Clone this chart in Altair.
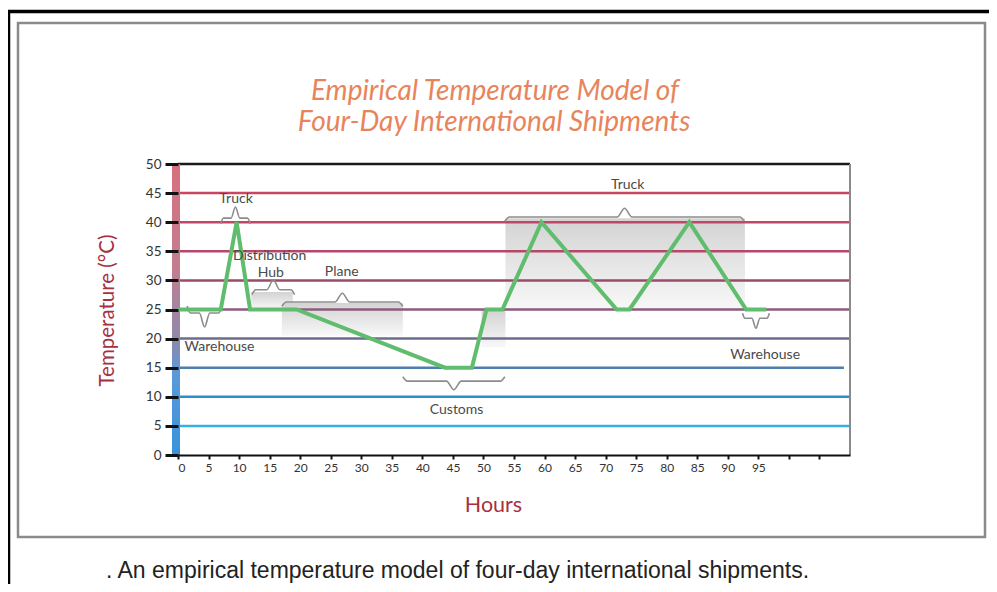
import altair as alt
import pandas as pd

# ---------------- data ----------------
hours = [0, 7.0, 9.6, 11.8, 19.4, 43.7, 48.1, 50.5, 53.1, 59.5, 71.8, 73.9, 83.7, 93.0, 96.3]
temps = [25, 25, 40, 25, 25, 15, 15, 25, 25, 40, 25, 25, 40, 25, 25]

grid_values = [5, 10, 15, 20, 25, 30, 35, 40, 45, 50]
grid_colors = ["#3aaee0", "#2a8fca", "#4f7dac", "#6c6c8e", "#8c5c7c", "#9c4a69",
               "#b44868", "#c34567", "#ca4660", "#1a1a1a"]
grid_end = [110, 110, 109, 110, 110, 110, 110, 110, 110, 110]

shade_x1 = [12.0, 17.0, 49.7, 53.6]
shade_x2 = [18.8, 36.8, 53.6, 92.8]
shade_lo = [25.0, 20.5, 18.5, 25.0]
shade_hi = [28.0, 26.1, 25.0, 40.7]

brace_start = [1.5, 7.0, 12.1, 17.0, 36.8, 53.5, 92.4]
brace_end = [7.2, 11.8, 19.1, 36.8, 53.5, 92.7, 96.8]
brace_base = [24.4, 40.7, 28.4, 26.3, 12.7, 40.9, 23.5]
brace_tip = [22.0, 42.6, 30.1, 27.8, 11.2, 42.4, 21.8]

label_text = ["Truck", "Distribution", "Hub", "Plane", "Warehouse", "Customs", "Truck", "Warehouse"]
label_hour = [9.5, 15.0, 15.2, 26.8, 6.8, 45.6, 73.6, 96.1]
label_temp = [44.0, 34.2, 31.3, 31.4, 18.6, 7.7, 46.4, 17.2]

x_ticks = list(range(0, 110, 5))
y_ticks = list(range(0, 55, 5))

title_lines = ["Empirical Temperature Model of", "Four-Day International Shipments"]
caption = ". An empirical temperature model of four-day international shipments."

# ---------------- tables ----------------
line_df = pd.DataFrame({"h": hours, "t": temps})
grid_df = pd.DataFrame({"t": grid_values, "c": grid_colors, "x0": 0, "x1": grid_end})
shade_df = pd.DataFrame({"a": shade_x1, "b": shade_x2, "lo": shade_lo, "hi": shade_hi})

rows = []
for i, (a, b, base, tip) in enumerate(zip(brace_start, brace_end, brace_base, brace_tip)):
    m = (a + b) / 2
    w = min(1.2, (b - a) * 0.15)
    d = tip - base
    pts = [(a, base - 0.5 * d), (a + w * 0.6, base), (m - w, base), (m, tip),
           (m + w, base), (b - w * 0.6, base), (b, base - 0.5 * d)]
    for j, (px, py) in enumerate(pts):
        rows.append({"id": i, "o": j, "h": px, "t": py})
brace_df = pd.DataFrame(rows)
label_df = pd.DataFrame({"txt": label_text, "h": label_hour, "t": label_temp})
one = pd.DataFrame({"k": [0]})

xs = alt.Scale(domain=[0, 110], nice=False, zero=False)
ys = alt.Scale(domain=[0, 50], nice=False, zero=False)

W, H = 672, 291

AX = alt.Axis(values=x_ticks, labelExpr="datum.value <= 95 ? datum.label : ''",
              title="Hours", titleX=315, titleY=50, titleAlign="center",
              titleBaseline="middle", titleColor="#a8303f", titleFontSize=21.5,
              titleFontWeight="normal", titleFont="Lato",
              labelFont="Lato", labelFontSize=12, labelColor="#333",
              labelPadding=3, tickSize=4, tickWidth=2, tickColor="#111",
              domainColor="#111", domainWidth=2, grid=False, zindex=1)
AY = alt.Axis(values=y_ticks, title="Temperature (°C)", titleX=-71, titleY=146,
              titleAlign="center", titleBaseline="middle", titleAngle=-90,
              titleColor="#a8303f", titleFontSize=20.5, titleFontWeight="normal",
              titleFont="Lato", labelFont="Lato", labelFontSize=13.5,
              labelColor="#333", labelPadding=4, tickSize=13, tickWidth=3,
              tickColor="#111", domain=False, grid=False, zindex=1)


def X(f):
    return alt.X(f, type="quantitative", scale=xs, axis=AX)


def Y(f):
    return alt.Y(f, type="quantitative", scale=ys, axis=AY)


grad_shade = alt.Gradient(gradient="linear",
                          stops=[alt.GradientStop(color="#d3d3d3", offset=0),
                                 alt.GradientStop(color="#f8f8f8", offset=1)],
                          x1=0, x2=0, y1=0, y2=1)
grad_bar = alt.Gradient(gradient="linear",
                        stops=[alt.GradientStop(color="#d8707f", offset=0),
                               alt.GradientStop(color="#c27e90", offset=0.35),
                               alt.GradientStop(color="#9088aa", offset=0.6),
                               alt.GradientStop(color="#5a9ad8", offset=0.72),
                               alt.GradientStop(color="#3a92da", offset=1)],
                        x1=0, x2=0, y1=0, y2=1)

# outer frame
frame_box = alt.Chart(one).mark_rect(fillOpacity=0, stroke="#8a8a8a", strokeWidth=2.5).encode(
    x=alt.value(-160), x2=alt.value(807), y=alt.value(-141), y2=alt.value(373))
frame_top = alt.Chart(one).mark_rule(color="#000", strokeWidth=3.5).encode(
    x=alt.value(-170), x2=alt.value(811), y=alt.value(-152.5))
frame_left = alt.Chart(one).mark_rule(color="#000", strokeWidth=3.5).encode(
    x=alt.value(-169.5), y=alt.value(-154), y2=alt.value(420))

shades = alt.Chart(shade_df).mark_rect(fill=grad_shade).encode(
    x=X("a"), x2="b", y=Y("hi"), y2="lo")

grid = alt.Chart(grid_df).mark_rule(strokeWidth=2.5).encode(
    x=X("x0"), x2="x1", y=Y("t"), color=alt.Color("c:N", scale=None, legend=None))

right_border = alt.Chart(one).mark_rule(color="#8a8a8a", strokeWidth=2).encode(
    x=alt.value(W), y=alt.value(0), y2=alt.value(H))

bar = alt.Chart(one).mark_rect(fill=grad_bar).encode(
    x=alt.value(-6), x2=alt.value(2), y=alt.value(0), y2=alt.value(H))

braces = alt.Chart(brace_df).mark_line(color="#8c8c8c", strokeWidth=1.6, interpolate="monotone").encode(
    x=X("h"), y=Y("t"), detail="id:N", order="o:Q")

line = alt.Chart(line_df).mark_line(color="#60bd6d", strokeWidth=4, strokeJoin="miter").encode(
    x=X("h"), y=Y("t"))

labels = alt.Chart(label_df).mark_text(font="Lato", fontSize=14, color="#4a4a4a").encode(
    x=X("h"), y=Y("t"), text="txt:N")

t1 = alt.Chart(one).mark_text(font="Lato", fontStyle="italic", fontSize=28, color="#e8845c").encode(
    x=alt.value(317), y=alt.value(-72), text=alt.value(title_lines[0]))
t2 = alt.Chart(one).mark_text(font="Lato", fontStyle="italic", fontSize=28, color="#e8845c").encode(
    x=alt.value(316), y=alt.value(-41), text=alt.value(title_lines[1]))

cap = alt.Chart(one).mark_text(font="Liberation Sans Narrow, Liberation Sans, sans-serif",
                               fontSize=23, color="#222", align="left").encode(
    x=alt.value(-72), y=alt.value(407), text=alt.value(caption))

chart = alt.layer(frame_box, frame_top, frame_left, shades, grid, right_border, bar,
                  braces, line, labels, t1, t2, cap).properties(
    width=W, height=H,
    autosize=alt.AutoSizeParams(type="none"),
    padding={"left": 170, "top": 156, "right": 139, "bottom": 129},
).configure_view(stroke=None).configure(background="white")

chart.save("out.html", embed_options={"renderer": "svg", "actions": False})
